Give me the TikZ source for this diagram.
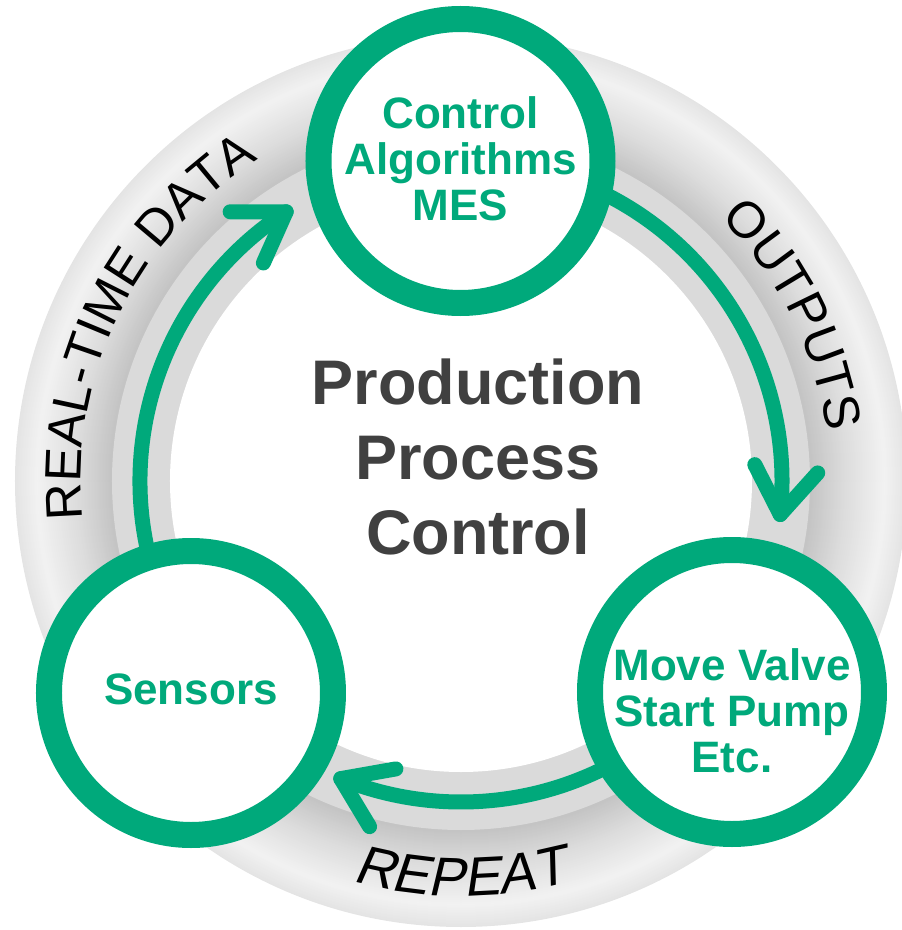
\documentclass[tikz,border=0pt]{standalone}
\usepackage{fontspec}
\setmainfont{Liberation Sans}
\newfontfamily\slantsans[FakeSlant=0.2]{Liberation Sans}
\usetikzlibrary{decorations.text}
\definecolor{pgreen}{RGB}{0,169,123}
\definecolor{ptitle}{RGB}{64,64,64}
\definecolor{ringA}{HTML}{C3C3C3}
\definecolor{ringB}{HTML}{DCDCDC}
\definecolor{ringC}{HTML}{F2F2F2}
\definecolor{ringE}{HTML}{E4E4E4}
\definecolor{bandIn}{HTML}{DADADA}
\newcommand\arcfont{\fontsize{51}{60}\selectfont}
\newcommand\repfont{\slantsans\fontsize{55}{64}\selectfont}
\newcommand\lblfont{\bfseries\fontsize{44}{46}\selectfont}
\newcommand\ttlfont{\bfseries\fontsize{63}{75}\selectfont}
\begin{document}
\begin{tikzpicture}[x=1pt,y=1pt,
  stagecircle/.style={circle, draw=pgreen, line width=26pt, fill=white, minimum size=284pt, inner sep=0pt},
  stagelabel/.style={text=pgreen, font=\lblfont, align=center, inner sep=0pt},
  arrowline/.style={draw=pgreen, line width=15pt, line cap=round, line join=round}
]
\useasboundingbox (-461,-449) rectangle (441,481);
\coordinate (O) at (0,0);
% ring: outer shaded band drawn as concentric discs
\foreach \r in {446,445,...,425} {
  \pgfmathsetmacro\q{(\r-424)/22*100}
  \fill[ringE!\q!ringC] (O) circle[radius=\r pt];
}
\foreach \r in {424,423,...,385} {
  \pgfmathsetmacro\q{(\r-384)/40*100}
  \fill[ringC!\q!ringB] (O) circle[radius=\r pt];
}
\foreach \r in {384,383,...,350} {
  \pgfmathsetmacro\q{(\r-349)/35*100}
  \fill[ringB!\q!ringA] (O) circle[radius=\r pt];
}
\fill[bandIn] (O) circle[radius=349pt];
\fill[white] (O) circle[radius=291pt];
% texts along the ring
\coordinate (rtdS) at (214:380pt);
\path[decorate, decoration={text along path, text align=center, text={|\arcfont|REAL-TIME DATA}}]
  (rtdS) arc[start angle=214, end angle=94, radius=380pt];
\coordinate (outS) at (76.5:369pt);
\path[decorate, decoration={text along path, text align=center, text={|\arcfont|OUTPUTS}}]
  (outS) arc[start angle=76.5, end angle=-23.5, radius=369pt];
\coordinate (repS) at (240:415pt);
\path[decorate, decoration={text along path, text align=center, text={|\repfont|REPEAT}}]
  (repS) arc[start angle=240, end angle=300, radius=415pt];
% arrows
\coordinate (a1s) at (205:321pt); \coordinate (a1t) at (123:321pt);
\draw[arrowline] (a1s) arc[start angle=205, end angle=123, radius=321pt];
\draw[arrowline] ([shift={(246:56pt)}]a1t) -- (a1t) -- ([shift={(180:56pt)}]a1t);
\coordinate (a2s) at (75:321pt); \coordinate (a2t) at (-6:321pt);
\draw[arrowline] (a2s) arc[start angle=75, end angle=-6, radius=321pt];
\draw[arrowline] ([shift={(117:56pt)}]a2t) -- (a2t) -- ([shift={(48:56pt)}]a2t);
\coordinate (a3s) at (-55:321pt); \coordinate (a3t) at (-112:321pt);
\draw[arrowline] (a3s) arc[start angle=-55, end angle=-112, radius=321pt];
\draw[arrowline] ([shift={(10:56pt)}]a3t) -- (a3t) -- ([shift={(-59:56pt)}]a3t);
% circles
\node[stagecircle] (ctrl) at (-0.5,320) {};
\node[stagecircle] (sens) at (-270,-212) {};
\node[stagecircle] (act) at (271,-211) {};
\node[stagelabel] (ctrlL) at ([yshift=2.5pt]ctrl.center) {Control\\Algorithms\\MES};
\node[stagelabel] (sensL) at ([yshift=3.5pt]sens.center) {Sensors};
\node[stagelabel] (actL) at ([yshift=-19pt]act.center) {Move Valve\\Start Pump\\Etc.};
% title
\node[font=\ttlfont, text=ptitle, align=center, inner sep=0pt] (title) at (17,24) {Production\\Process\\Control};
\end{tikzpicture}
\end{document}
